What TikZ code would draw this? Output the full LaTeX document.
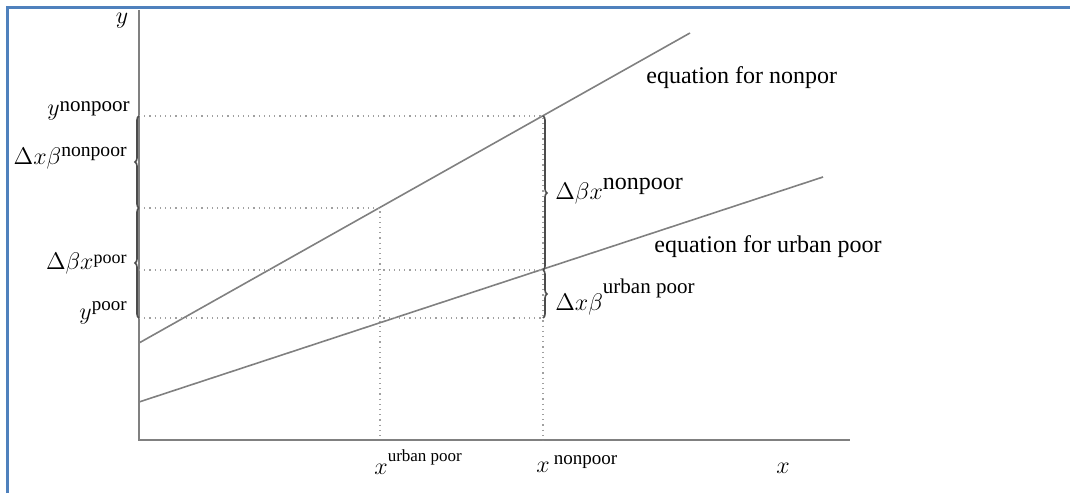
\documentclass[tikz,border=0pt]{standalone}
\usepackage{amsmath}
\usepackage{fontspec}
\setmainfont{Liberation Serif}
\usetikzlibrary{positioning,decorations.pathreplacing}
\definecolor{axisgrey}{HTML}{808080}
\definecolor{dotgrey}{HTML}{A0A0A0}
\definecolor{frameblue}{HTML}{4F81BD}
\newcommand{\upword}[3][0.6ex]{\raisebox{#1}{\fontsize{#2}{12}\selectfont #3}}

\begin{document}
\begin{tikzpicture}[x=0.5pt,y=-0.5pt,
    axis/.style={axisgrey,line width=1.1pt},
    eqline/.style={axisgrey,line width=0.8pt},
    guide/.style={dotgrey,dotted,line width=0.6pt},
    brk/.style={decorate,decoration={brace,amplitude=2pt},black!70,line width=0.8pt},
    lbl/.style={font=\fontsize{12}{14}\selectfont,inner sep=1pt}]
    \useasboundingbox (0,0) rectangle (1070,493);
    % frame
    \draw[frameblue,line width=1.5pt] (7,493) -- (7,7) -- (1070,7);
    % axes
    \coordinate (O) at (139,440);
    \coordinate (ytop) at (139,10);
    \coordinate (xend) at (850,440);
    \draw[axis] (ytop) -- (O) -- (xend);
    % the two equations
    \coordinate (np0) at (139,343);
    \coordinate (np1) at (690,33);
    \coordinate (up0) at (139,402);
    \coordinate (up1) at (823,177);
    \draw[eqline] (np0) -- (np1);
    \draw[eqline] (up0) -- (up1);
    % guide lines
    \coordinate (ya) at (139,116);
    \coordinate (yb) at (139,208);
    \coordinate (yc) at (139,270);
    \coordinate (yd) at (139,318);
    \coordinate (pa) at (543,116);
    \coordinate (pb) at (380,208);
    \coordinate (pc) at (543,270);
    \coordinate (pd) at (543,318);
    \coordinate (xa) at (543,440);
    \coordinate (xb) at (380,440);
    \draw[guide] (ya) -- (pa) -- (xa);
    \draw[guide] (yb) -- (pb) -- (xb);
    \draw[guide] (yc) -- (pc);
    \draw[guide] (yd) -- (pd);
    % braces
    \draw[brk,xshift=-3pt] (yb) -- (ya);
    \draw[brk,xshift=-3pt] (yd) -- (yb);
    \draw[brk,xshift=3pt] (pa) -- (pc);
    \draw[brk,xshift=3pt] (pc) -- (pd);
    % labels
    \node[lbl] (ylab) at (122,21) {$y$};
    \node[lbl,left] (ynp) at (132,111) {$y$\upword[0.4ex]{10.5}{nonpoor}};
    \node[lbl,left] (dxbnp) at (129,158) {$\Delta x\beta$\upword[0.7ex]{9.8}{nonpoor}};
    \node[lbl,left] (dbxp) at (129,263) {$\Delta\beta x$\upword[0.5ex]{9}{poor}};
    \node[lbl,left] (yp) at (129,313) {$y$\upword[0.8ex]{9.5}{poor}};
    \node[lbl,right] (dbxnp) at (553,191) {$\Delta\beta x$\upword[0.9ex]{12}{nonpoor}};
    \node[lbl,right] (dxbup) at (553,297) {$\Delta x\beta$\upword[1.5ex]{10.5}{urban poor}};
    \node[lbl,right] (eqnp) at (644,78) {equation for nonpor};
    \node[lbl,right] (equp) at (652,247) {equation for urban poor};
    \node[lbl,right] (xup) at (372,462) {$x$\upword[1.2ex]{8.5}{urban poor}};
    \node[lbl,right] (xnp) at (534,464) {$x$\,\upword[0.7ex]{9.5}{nonpoor}};
    \node[lbl] (xlab) at (783,468) {$x$};
\end{tikzpicture}
\end{document}
